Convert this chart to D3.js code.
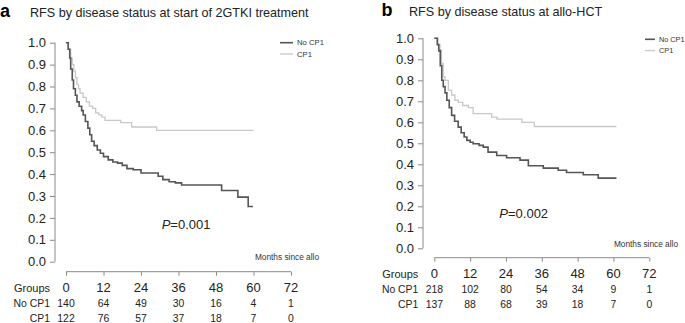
<!DOCTYPE html>
<html>
<head>
<meta charset="utf-8">
<script src="https://cdn.jsdelivr.net/npm/d3@7"></script>
<style>
  body { margin: 0; background: #fff; }
  svg { display: block; font-family: "Liberation Sans", Arial, sans-serif; }
</style>
</head>
<body>
<div id="chart"></div>
<script>
// axis ticks shared by both panels
const monthTicks = [0, 12, 24, 36, 48, 60, 72];
const survTicks = [0, 0.1, 0.2, 0.3, 0.4, 0.5, 0.6, 0.7, 0.8, 0.9, 1.0];
const groupNames = ["No CP1", "CP1"];

// panel a: [month, survival] at each step
const noCp1A = [[0,1],[0.7,0.97],[1.2,0.93],[1.5,0.88],[2,0.83],[2.4,0.79],[3,0.76],[3.5,0.73],[4.2,0.71],[5,0.69],
  [5.5,0.67],[6.2,0.64],[7,0.61],[7.6,0.58],[8.2,0.55],[9,0.53],[10,0.51],[11,0.495],[12,0.48],[13.5,0.465],
  [15,0.455],[16.5,0.45],[18,0.44],[19.5,0.425],[21.5,0.42],[24,0.405],[29.5,0.39],[31,0.375],[33,0.365],
  [35,0.36],[37,0.35],[49.8,0.325],[55,0.295],[58.3,0.252],[59.8,0.252]];
const cp1A = [[0,1],[0.8,0.97],[1.5,0.93],[2,0.9],[2.5,0.87],[3,0.84],[3.5,0.81],[4,0.79],[4.5,0.77],[5.5,0.75],
  [6.5,0.73],[7.5,0.71],[8.5,0.70],[9.5,0.68],[10.5,0.67],[11.5,0.66],[12.5,0.645],[17.5,0.635],[21,0.615],
  [29,0.60],[60,0.60]];
const riskNoCp1A = [140, 64, 49, 30, 16, 4, 1];
const riskCp1A = [122, 76, 57, 37, 18, 7, 0];

// panel b
const noCp1B = [[0,1],[1,0.97],[1.5,0.94],[2,0.87],[2.5,0.80],[3,0.77],[3.6,0.74],[4.2,0.705],[5,0.67],[5.8,0.633],
  [6.8,0.605],[8,0.577],[9,0.55],[10,0.53],[10.9,0.514],[12,0.505],[13,0.498],[15,0.49],[16.4,0.482],[18,0.458],
  [20.9,0.442],[24.2,0.431],[28.7,0.42],[31.5,0.393],[36.5,0.382],[41.5,0.372],[44.3,0.361],[49.9,0.35],
  [54.9,0.334],[61,0.334]];
const cp1B = [[0,1],[1.2,0.97],[1.9,0.945],[2.4,0.88],[3,0.817],[3.6,0.80],[4.7,0.753],[5.8,0.73],[6.9,0.705],
  [8,0.695],[9.5,0.68],[11.4,0.67],[13,0.641],[19.2,0.625],[21,0.615],[29.3,0.60],[33.5,0.58],[61,0.58]];
const riskNoCp1B = [218, 102, 80, 54, 34, 9, 1];
const riskCp1B = [137, 88, 68, 39, 18, 7, 0];

const W = 685, H = 323;
const darkCol = "#555", lightCol = "#c8c8c8", axisCol = "#8a8a8a";

const svg = d3.select("#chart").append("svg")
  .attr("width", W).attr("height", H);

function drawPanel(p) {
  const g = svg.append("g");
  const x = d3.scaleLinear().domain([0, 72]).range(p.xRange);
  const y = d3.scaleLinear().domain([0, 1]).range(p.yRange);

  // letter + title
  g.append("text").attr("x", p.letterX).attr("y", p.titleY)
    .attr("font-size", 18).attr("font-weight", "bold").text(p.letter);
  g.append("text").attr("x", p.titleX).attr("y", p.titleY)
    .attr("font-size", 12.6).attr("fill", "#222").text(p.title);

  // y axis
  const yAx = g.append("g").attr("transform", `translate(${p.yAxisX},0)`)
    .call(d3.axisLeft(y).tickValues(survTicks).tickFormat(d3.format(".1f")).tickSize(5).tickPadding(4));
  yAx.select(".domain").attr("stroke", axisCol).attr("d", `M0,${y(1)}V${y(0)}`);
  yAx.selectAll(".tick line").attr("stroke", axisCol);
  yAx.selectAll(".tick text").attr("font-size", 13).attr("fill", "#222")
    .attr("font-family", "Liberation Sans, Arial, sans-serif");

  // x axis (ticks only, labels in the risk table)
  const xAx = g.append("g").attr("transform", `translate(0,${p.xAxisY})`)
    .call(d3.axisBottom(x).tickValues(monthTicks).tickSize(4).tickFormat(""));
  xAx.select(".domain").attr("stroke", axisCol).attr("d", `M${x(0)},0H${x(72)}`);
  xAx.selectAll(".tick line").attr("stroke", axisCol);

  // curves
  const line = d3.line().x(d => x(d[0])).y(d => y(d[1])).curve(d3.curveStepAfter);
  g.append("path").datum(p.light).attr("d", line)
    .attr("fill", "none").attr("stroke", lightCol).attr("stroke-width", 1.3);
  g.append("path").datum(p.dark).attr("d", line)
    .attr("fill", "none").attr("stroke", darkCol).attr("stroke-width", 1.6);

  // legend
  const leg = g.append("g");
  [[groupNames[0], darkCol, 1.6], [groupNames[1], lightCol, 1.3]].forEach((d, i) => {
    const ly = p.legY + i * 11.3;
    leg.append("line").attr("x1", p.legX).attr("x2", p.legX + p.legLen)
      .attr("y1", ly).attr("y2", ly).attr("stroke", d[1]).attr("stroke-width", d[2]);
    leg.append("text").attr("x", p.legX + p.legLen + 4).attr("y", ly + 2.6)
      .attr("font-size", p.legFont).attr("fill", "#333").text(d[0]);
  });

  // x label and p value
  g.append("text").attr("x", p.monthsX).attr("y", p.monthsY).attr("text-anchor", "end")
    .attr("font-size", 8.3).attr("fill", "#333").text("Months since allo");
  const pt = g.append("text").attr("x", p.pX).attr("y", p.pY).attr("font-size", 13).attr("fill", "#222");
  pt.append("tspan").attr("font-style", "italic").text("P");
  pt.append("tspan").text("=0.00" + p.pVal);

  // risk table
  g.append("text").attr("x", p.groupsX).attr("y", p.rowY[0]).attr("text-anchor", "end")
    .attr("font-size", 11).attr("fill", "#222").text("Groups");
  g.selectAll(".mt").data(monthTicks).join("text")
    .attr("x", d => x(d)).attr("y", p.rowY[0]).attr("text-anchor", "middle")
    .attr("font-size", 13).attr("fill", "#222").text(d => d);
  [p.riskNo, p.riskCp].forEach((row, i) => {
    g.append("text").attr("x", p.groupsX).attr("y", p.rowY[i + 1]).attr("text-anchor", "end")
      .attr("font-size", 10.4).attr("fill", "#222").text(groupNames[i]);
    g.selectAll(".r" + i).data(row).join("text")
      .attr("x", (d, j) => x(monthTicks[j])).attr("y", p.rowY[i + 1]).attr("text-anchor", "middle")
      .attr("font-size", 10.4).attr("fill", "#222").text(d => d);
  });
}

drawPanel({
  letter: "a", letterX: 0, titleX: 30, titleY: 16.7,
  title: "RFS by disease status at start of 2GTKI treatment",
  xRange: [66, 291], yRange: [261.7, 42.7], yAxisX: 55, xAxisY: 271.7,
  dark: noCp1A, light: cp1A,
  legX: 280, legY: 42.7, legLen: 13, legFont: 7.7,
  monthsX: 319, monthsY: 260, pX: 161.7, pY: 229, pVal: "1",
  groupsX: 50, rowY: [291.7, 307.3, 322.3],
  riskNo: riskNoCp1A, riskCp: riskCp1A
});

drawPanel({
  letter: "b", letterX: 381.5, titleX: 409, titleY: 15.7,
  title: "RFS by disease status at allo-HCT",
  xRange: [434.3, 649.3], yRange: [248.3, 38.3], yAxisX: 423, xAxisY: 257.7,
  dark: noCp1B, light: cp1B,
  legX: 645, legY: 39.3, legLen: 10, legFont: 7.3,
  monthsX: 678, monthsY: 246.7, pX: 499.3, pY: 218, pVal: "2",
  groupsX: 418.3, rowY: [278.3, 293.3, 308.3],
  riskNo: riskNoCp1B, riskCp: riskCp1B
});
</script>
</body>
</html>
